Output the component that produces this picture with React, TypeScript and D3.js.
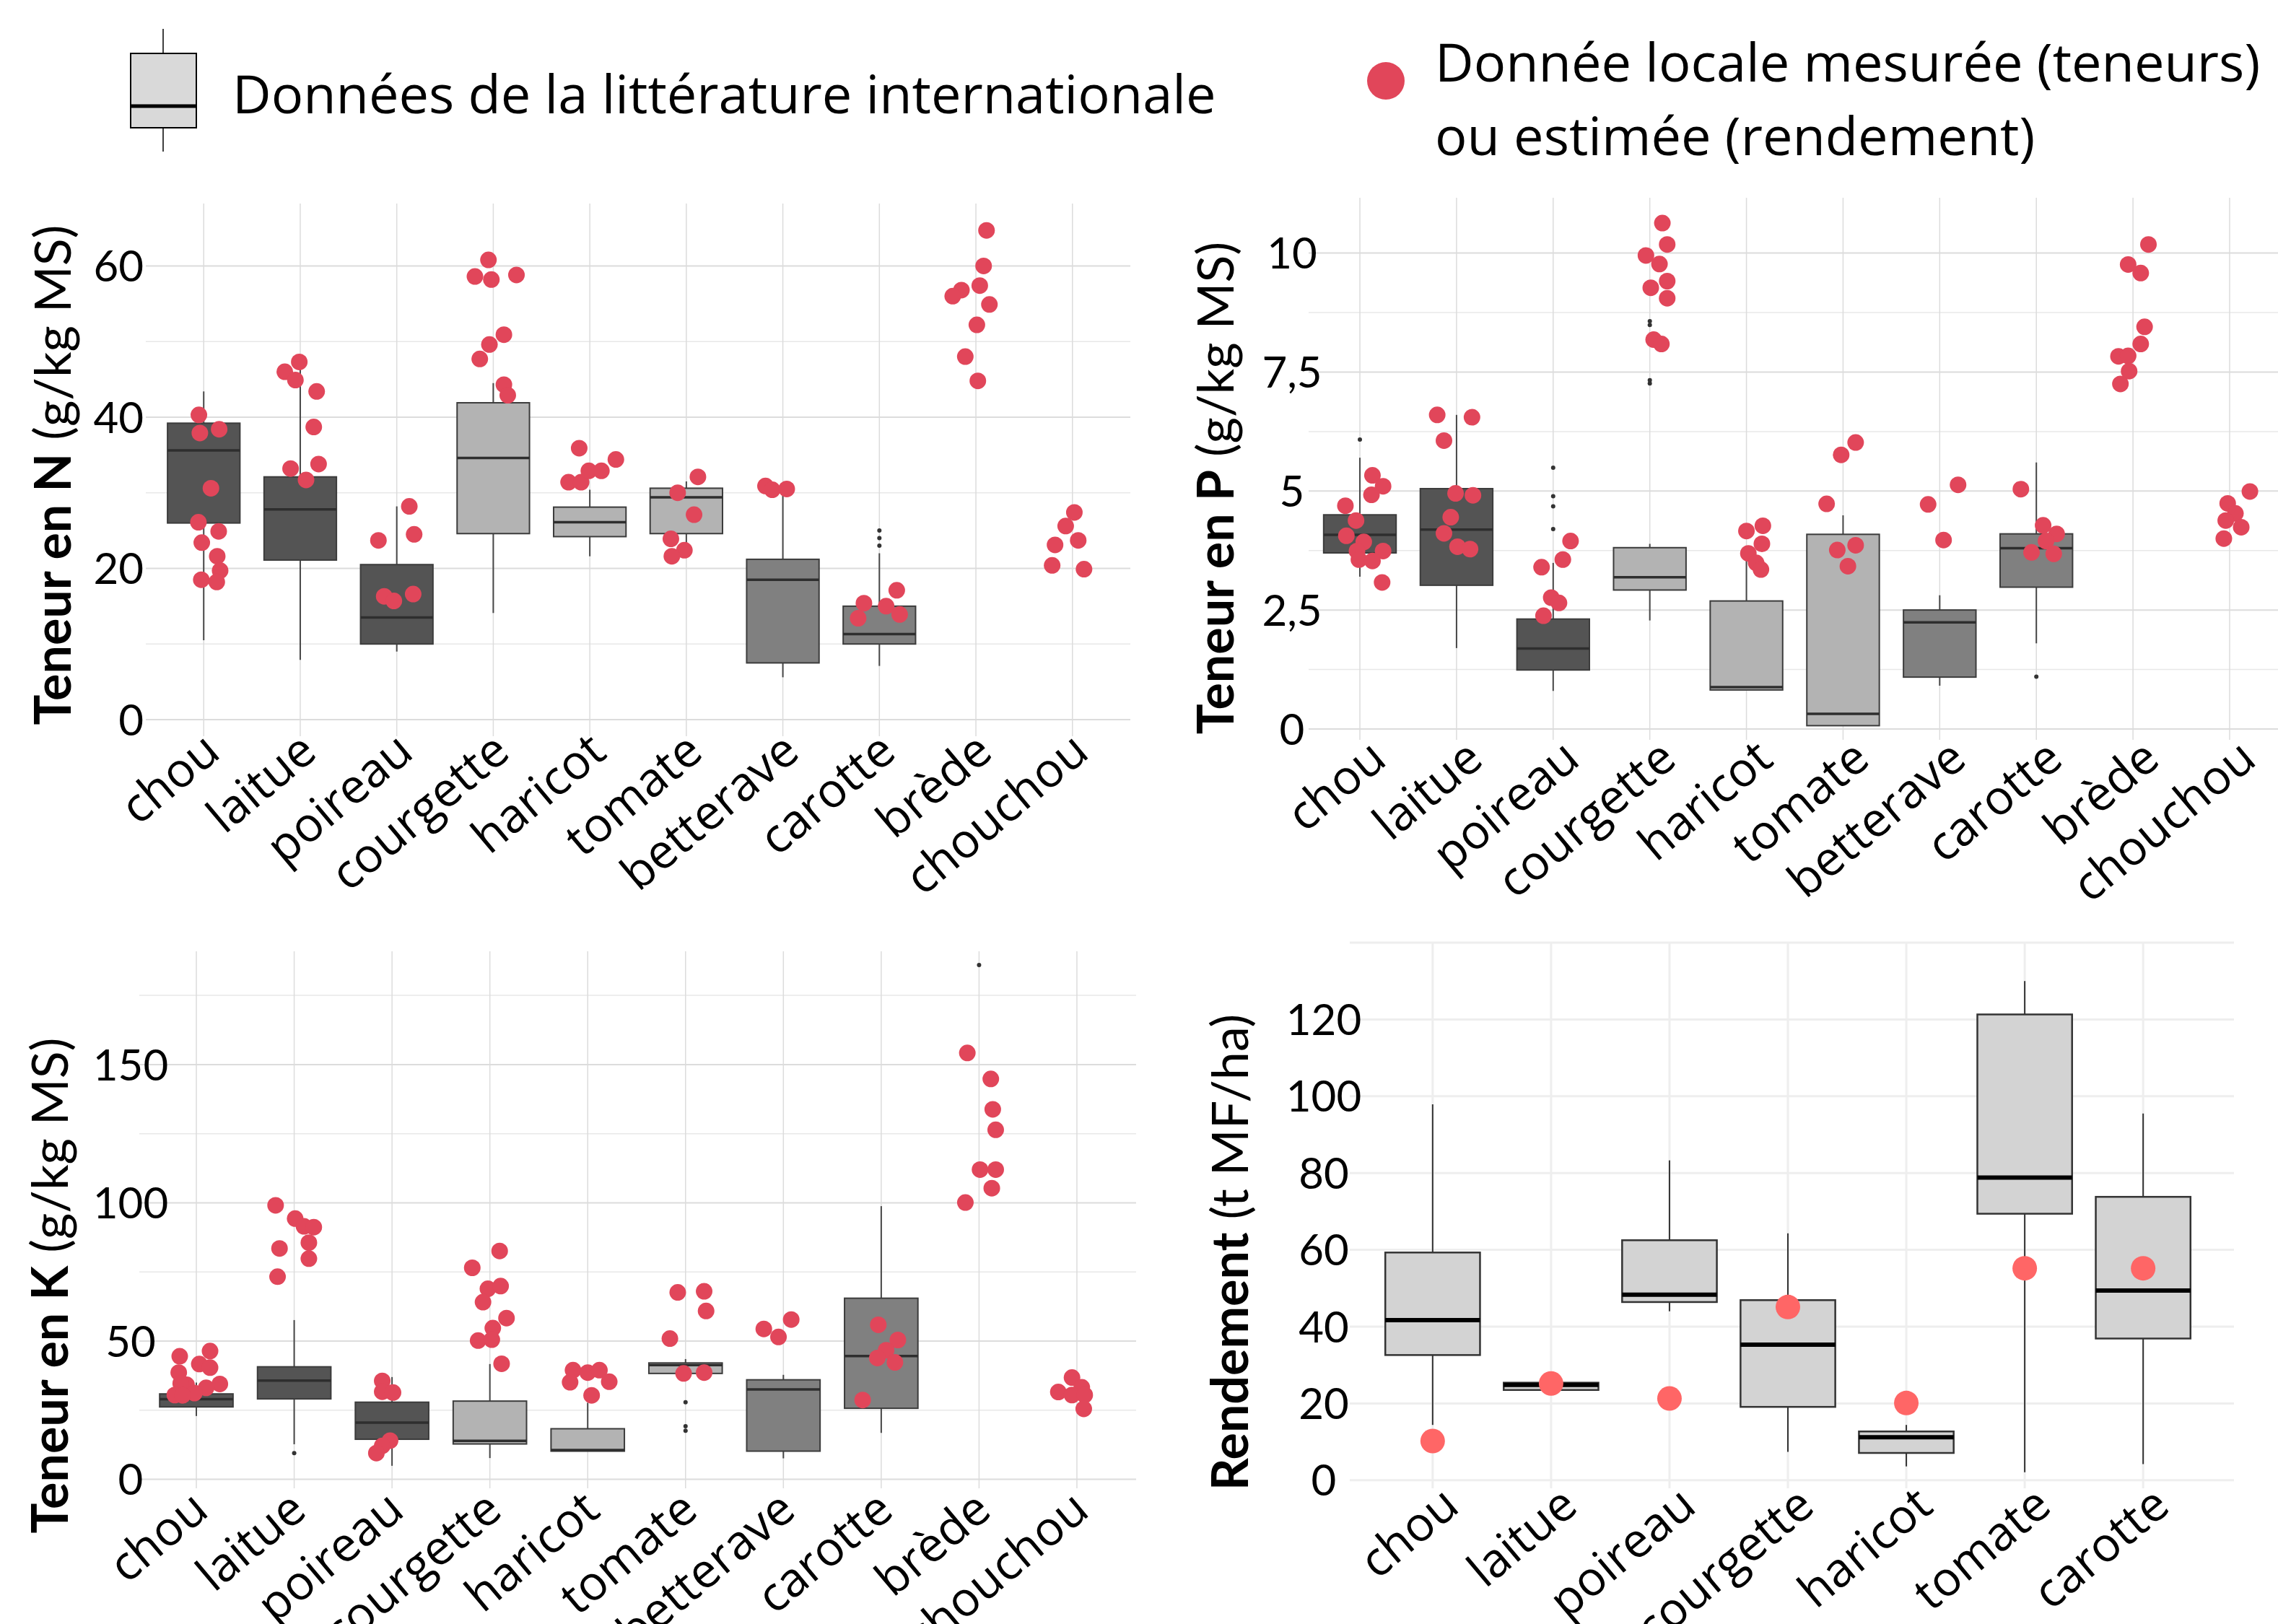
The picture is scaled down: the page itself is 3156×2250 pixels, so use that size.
import * as d3 from "d3"

const W = 3156
const H = 2250
const FONT = "Lato, 'Open Sans', sans-serif"
const FONT2 = "'Open Sans', Lato, sans-serif"

// catégories
const legumes = ["chou", "laitue", "poireau", "courgette", "haricot", "tomate", "betterave", "carotte", "brède", "chouchou"]
const legumesRdt = ["chou", "laitue", "poireau", "courgette", "haricot", "tomate", "carotte"]
// type de légume -> teinte de la boîte
const groupes = ["feuille", "feuille", "feuille", "fruit", "fruit", "fruit", "racine", "racine", "", ""]

// boîtes de la littérature : [min, q1, médiane, q3, max]
const boitesN = [
    [10.5, 26.0, 35.6, 39.2, 43.4],
    [7.9, 21.1, 27.8, 32.1, 48.1],
    [9.0, 10.0, 13.5, 20.5, 28.2],
    [14.1, 24.6, 34.6, 41.9, 44.5],
    [21.6, 24.2, 26.1, 28.1, 30.4],
    [22.0, 24.6, 29.4, 30.6, 31.5],
    [5.6, 7.5, 18.5, 21.2, 30.8],
    [7.1, 10.0, 11.3, 15.0, 22.0],
    null,
    null,
]
const horsN = [[], [], [], [], [], [], [], [23.0, 24.0, 25.0], [], []]
// mesures locales : [valeur, décalage horizontal (en largeur de catégorie)]
const mesuresN = [
    [[40.3, -0.05], [37.9, -0.04], [38.4, 0.16], [30.6, 0.075], [26.1, -0.055], [24.9, 0.155], [23.4, -0.02], [21.6, 0.14], [19.7, 0.17], [18.5, -0.025], [18.2, 0.135]],
    [[46.0, -0.16], [47.3, -0.01], [44.9, -0.05], [43.4, 0.17], [38.7, 0.14], [33.8, 0.19], [33.2, -0.10], [31.7, 0.06]],
    [[23.7, -0.19], [28.2, 0.13], [24.5, 0.18], [16.3, -0.13], [15.7, -0.03], [16.6, 0.17]],
    [[60.8, -0.05], [58.6, -0.19], [58.2, -0.02], [58.8, 0.24], [50.9, 0.11], [49.6, -0.04], [47.7, -0.14], [44.3, 0.11], [42.9, 0.15]],
    [[35.9, -0.11], [31.4, -0.22], [31.4, -0.09], [32.9, -0.01], [32.9, 0.12], [34.4, 0.27]],
    [[32.1, 0.12], [30.0, -0.09], [27.1, 0.08], [23.9, -0.16], [22.4, -0.02], [21.6, -0.15]],
    [[30.9, -0.18], [30.4, -0.11], [30.5, 0.04]],
    [[15.4, -0.16], [17.1, 0.18], [15.0, 0.07], [13.4, -0.22], [13.9, 0.21]],
    [[64.7, 0.11], [60.0, 0.08], [57.4, 0.04], [56.8, -0.15], [56.0, -0.24], [54.9, 0.14], [52.2, 0.01], [48.0, -0.11], [44.8, 0.02]],
    [[27.4, 0.02], [25.6, -0.07], [23.1, -0.18], [23.7, 0.06], [20.4, -0.21], [19.9, 0.12]],
]

const boitesP = [
    [3.20, 3.70, 4.08, 4.50, 5.70],
    [1.70, 3.02, 4.19, 5.05, 6.60],
    [0.80, 1.24, 1.69, 2.31, 3.49],
    [2.28, 2.92, 3.19, 3.81, 3.89],
    [0.82, 0.82, 0.88, 2.69, 3.75],
    [0.07, 0.07, 0.32, 4.09, 4.49],
    [0.91, 1.09, 2.24, 2.50, 2.81],
    [1.80, 2.98, 3.80, 4.10, 5.60],
    null,
    null,
]
const horsP = [[6.08], [], [4.20, 4.68, 4.89, 5.49], [7.26, 7.33, 8.49, 8.57], [], [], [], [1.10], [], []]
const mesuresP = [
    [[5.33, 0.13], [5.10, 0.24], [4.92, 0.12], [4.69, -0.15], [4.38, -0.04], [4.06, -0.14], [3.93, 0.04], [3.74, -0.03], [3.74, 0.24], [3.56, -0.01], [3.53, 0.13], [3.08, 0.23]],
    [[6.60, -0.20], [6.55, 0.16], [6.06, -0.13], [4.95, -0.01], [4.91, 0.17], [4.45, -0.06], [4.11, -0.13], [3.83, 0.01], [3.78, 0.14]],
    [[3.40, -0.12], [3.95, 0.18], [3.56, 0.10], [2.76, -0.02], [2.65, 0.06], [2.38, -0.10]],
    [[10.63, 0.13], [10.18, 0.18], [9.95, -0.04], [9.77, 0.10], [9.41, 0.18], [9.27, 0.01], [9.05, 0.18], [8.18, 0.04], [8.09, 0.12]],
    [[4.27, 0.17], [4.16, 0.0], [3.89, 0.16], [3.69, 0.02], [3.49, 0.10], [3.35, 0.15]],
    [[6.02, 0.13], [5.76, -0.02], [4.73, -0.17], [3.86, 0.13], [3.76, -0.06], [3.42, 0.05]],
    [[5.13, 0.19], [4.72, -0.12], [3.97, 0.04]],
    [[5.04, -0.16], [4.28, 0.07], [4.10, 0.21], [3.95, 0.10], [3.71, -0.05], [3.68, 0.18]],
    [[10.18, 0.16], [9.76, -0.05], [9.58, 0.08], [8.45, 0.12], [8.09, 0.08], [7.83, -0.15], [7.84, -0.05], [7.52, -0.04], [7.25, -0.13]],
    [[4.99, 0.21], [4.74, -0.02], [4.53, 0.06], [4.38, -0.04], [4.24, 0.12], [4.00, -0.06]],
]

const boitesK = [
    [22.9, 26.2, 29.0, 30.9, 35.0],
    [12.7, 29.1, 35.7, 40.7, 57.6],
    [4.9, 14.5, 20.5, 27.9, 37.0],
    [7.7, 12.8, 13.9, 28.3, 41.7],
    [10.2, 10.2, 10.6, 18.3, 27.7],
    [37.0, 38.3, 41.3, 42.1, 43.5],
    [7.6, 10.2, 32.5, 36.0, 37.8],
    [16.8, 25.7, 44.6, 65.5, 98.8],
    null,
    null,
]
const horsK = [[], [9.5], [], [], [], [17.6, 19.2, 27.9], [], [], [186.0], []]
const mesuresK = [
    [[44.5, -0.17], [46.4, 0.14], [41.7, 0.03], [40.4, 0.14], [38.6, -0.18], [34.5, 0.24], [33.1, 0.10], [34.2, -0.10], [34.7, -0.16], [31.2, -0.02], [30.5, -0.22], [30.4, -0.14]],
    [[99.1, -0.19], [94.3, 0.01], [91.5, 0.10], [91.2, 0.20], [83.5, -0.15], [85.6, 0.15], [79.8, 0.15], [73.3, -0.17]],
    [[35.6, -0.10], [31.7, -0.10], [31.4, 0.01], [14.0, -0.02], [12.1, -0.10], [9.5, -0.16]],
    [[82.6, 0.10], [76.5, -0.18], [68.9, -0.02], [69.9, 0.11], [64.1, -0.07], [58.3, 0.17], [54.7, 0.03], [50.2, -0.12], [50.5, 0.02], [41.8, 0.12]],
    [[39.5, -0.15], [38.6, 0.0], [39.5, 0.12], [35.1, -0.18], [35.3, 0.22], [30.4, 0.04]],
    [[67.6, -0.08], [68.0, 0.19], [60.9, 0.21], [50.9, -0.16], [38.3, -0.02], [38.6, 0.19]],
    [[57.8, 0.08], [54.4, -0.20], [51.5, -0.05]],
    [[55.9, -0.03], [50.4, 0.17], [46.7, 0.05], [43.9, -0.04], [42.3, 0.14], [28.7, -0.19]],
    [[154.2, -0.12], [144.8, 0.12], [133.8, 0.14], [126.4, 0.17], [112.0, 0.01], [112.0, 0.17], [105.3, 0.13], [100.1, -0.14]],
    [[36.8, -0.05], [31.6, -0.19], [33.3, 0.05], [30.5, -0.05], [30.5, 0.08], [25.5, 0.07]],
]

const boitesR = [
    [14.4, 32.6, 41.7, 59.3, 97.9],
    [23.5, 23.5, 24.8, 25.4, 25.4],
    [44.0, 46.4, 48.3, 62.5, 83.3],
    [7.4, 19.1, 35.3, 46.9, 64.3],
    [3.6, 7.1, 11.2, 12.7, 14.4],
    [2.1, 69.4, 78.8, 121.3, 130.0],
    [4.2, 36.9, 49.4, 73.8, 95.5],
]
const horsR = [[], [], [], [], [], [], []]
const mesuresR = [[[10.2, 0]], [[25.2, 0]], [[21.3, 0]], [[45.1, 0]], [[20.1, 0]], [[55.2, 0]], [[55.2, 0]]]

// graduations
const ticksN = [0, 20, 40, 60]
const minorN = [10, 30, 50]
const ticksP = [0, 2.5, 5, 7.5, 10]
const minorP = [1.25, 3.75, 6.25, 8.75]
const ticksK = [0, 50, 100, 150]
const minorK = [25, 75, 125, 175]
const ticksR = [0, 20, 40, 60, 80, 100, 120]
const gridR = [0, 20, 40, 60, 80, 100, 120, 140]

const fmt = (v: number) => String(v).replace(".", ",")

const fillGroupe: Record<string, string> = { feuille: "#545454", fruit: "#b3b3b3", racine: "#808080", "": "none" }

type Cfg = {
    xRange: [number, number]
    pad: number
    gridX: [number, number]
    top: number
    bottom: number
    yDom: [number, number]
    yRng: [number, number]
    boxW: number
    tickX: number
    tickAnchor: string
    labDx: number
    labDy: number
    titleX: number
    titleY: number
    bold: string
    rest: string
    rdt?: boolean
}

function Panel(props: {
    cats: string[]
    boxes: (number[] | null)[]
    outl: number[][]
    pts: number[][][]
    ticks: number[]
    grid: number[]
    minor: number[]
    cfg: Cfg
}) {
    const { cats, boxes, outl, pts, ticks, grid, minor, cfg } = props
    const x = d3.scalePoint<string>().domain(cats).range(cfg.xRange).padding(cfg.pad)
    const y = d3.scaleLinear().domain(cfg.yDom).range(cfg.yRng)
    const step = x.step()
    const bw = step * cfg.boxW
    const rdt = !!cfg.rdt
    const gridCol = rdt ? "#eeeeee" : "#dcdcdc"
    const gridW = rdt ? 3 : 2

    return (
        <g>
            {minor.map((t) => (
                <line key={"m" + t} x1={cfg.gridX[0]} x2={cfg.gridX[1]} y1={y(t)} y2={y(t)} stroke="#e8e8e8" strokeWidth={1.5} />
            ))}
            {grid.map((t) => (
                <line key={"g" + t} x1={cfg.gridX[0]} x2={cfg.gridX[1]} y1={y(t)} y2={y(t)} stroke={gridCol} strokeWidth={gridW} />
            ))}
            {cats.map((c) => (
                <line key={"v" + c} x1={x(c)} x2={x(c)} y1={cfg.top} y2={cfg.bottom} stroke={gridCol} strokeWidth={rdt ? 3 : 1.5} />
            ))}

            {cats.map((c, i) => {
                const b = boxes[i]
                if (!b) return null
                const cx = x(c) as number
                const fill = rdt ? "#d3d3d3" : fillGroupe[groupes[i]]
                return (
                    <g key={"b" + c}>
                        <line x1={cx} x2={cx} y1={y(b[0])} y2={y(b[1])} stroke={rdt ? "#333" : "#474747"} strokeWidth={2} />
                        <line x1={cx} x2={cx} y1={y(b[3])} y2={y(b[4])} stroke={rdt ? "#333" : "#474747"} strokeWidth={2} />
                        <rect x={cx - bw / 2} y={y(b[3])} width={bw} height={Math.max(y(b[1]) - y(b[3]), 0.5)}
                            fill={fill} stroke={rdt ? "#333" : "#3c3c3c"} strokeWidth={rdt ? 2.5 : 2} />
                        <line x1={cx - bw / 2} x2={cx + bw / 2} y1={y(b[2])} y2={y(b[2])}
                            stroke={rdt ? "#000" : "#2e2e2e"} strokeWidth={rdt ? 6 : 3.5} />
                    </g>
                )
            })}

            {cats.map((c, i) =>
                outl[i].map((v, j) => (
                    <circle key={"o" + c + j} cx={x(c)} cy={y(v)} r={3} fill="#333" />
                ))
            )}

            {cats.map((c, i) =>
                pts[i].map((p, j) => (
                    <circle key={"p" + c + j} cx={(x(c) as number) + p[1] * step} cy={y(p[0])}
                        r={rdt ? 17 : 11.5} fill={rdt ? "#ff6666" : "#e1465a"} />
                ))
            )}

            {ticks.map((t) => (
                <text key={"t" + t} x={cfg.tickX} y={y(t)} dy="0.36em" textAnchor={cfg.tickAnchor}
                    fontSize={60} fontFamily={FONT} fill="#000">{fmt(t)}</text>
            ))}

            {cats.map((c) => (
                <text key={"l" + c} transform={`translate(${(x(c) as number) + cfg.labDx},${y(0) + cfg.labDy}) rotate(-40)`}
                    textAnchor="end" fontSize={66} fontFamily={FONT2} fill="#000">{c}</text>
            ))}

            <text transform={`translate(${cfg.titleX},${cfg.titleY}) rotate(-90)`} textAnchor="middle"
                fontSize={70} fontFamily={FONT} fill="#000">
                <tspan fontWeight={700}>{cfg.bold}</tspan>
                <tspan>{cfg.rest}</tspan>
            </text>
        </g>
    )
}

export default function App() {
    const cfgN: Cfg = {
        xRange: [202, 1566], pad: 0.6, gridX: [202, 1566], top: 282, bottom: 1020,
        yDom: [0, 60], yRng: [997, 368.4], boxW: 0.75, tickX: 199, tickAnchor: "end",
        labDx: 26, labDy: 50, titleX: 98, titleY: 658, bold: "Teneur en N", rest: " (g/kg MS)",
    }
    const cfgP: Cfg = {
        xRange: [1803.7, 3169.3], pad: 0.6, gridX: [1813, 3156], top: 274, bottom: 1025,
        yDom: [0, 10], yRng: [1010, 350.6], boxW: 0.75, tickX: 1790, tickAnchor: "middle",
        labDx: 40, labDy: 47, titleX: 1709, titleY: 676, bold: "Teneur en P", rest: " (g/kg MS)",
    }
    const cfgK: Cfg = {
        xRange: [190.7, 1573.3], pad: 0.6, gridX: [193, 1574], top: 1318, bottom: 2062,
        yDom: [0, 150], yRng: [2049.6, 1474.9], boxW: 0.75, tickX: 181, tickAnchor: "middle",
        labDx: 20, labDy: 48, titleX: 94, titleY: 1781, bold: "Teneur en K", rest: " (g/kg MS)",
    }
    const cfgR: Cfg = {
        xRange: [1870, 3084], pad: 0.7, gridX: [1870, 3095], top: 1307, bottom: 2062,
        yDom: [0, 120], yRng: [2050.8, 1412.4], boxW: 0.8, tickX: 1834, tickAnchor: "middle",
        labDx: 40, labDy: 41, titleX: 1729, titleY: 1735, bold: "Rendement", rest: " (t MF/ha)", rdt: true,
    }

    const legendStyle = { fontVariantLigatures: "none" }

    return (
        <svg width={W} height={H} viewBox={`0 0 ${W} ${H}`}
            style={{ position: "absolute", left: 0, top: 0, background: "#fff" }}>
            <rect width={W} height={H} fill="#fff" />

            {/* légende */}
            <line x1={226} x2={226} y1={40} y2={210} stroke="#000" strokeWidth={1.5} />
            <rect x={181} y={74} width={91} height={103} fill="#d9d9d9" stroke="#000" strokeWidth={2} />
            <line x1={181} x2={272} y1={147} y2={147} stroke="#000" strokeWidth={5} />
            <text x={322} y={157} fontSize={74} fontFamily={FONT2} fill="#000" style={legendStyle}>Données de la littérature internationale</text>
            <circle cx={1920} cy={112} r={26} fill="#e1465a" />
            <text x={1988} y={113} fontSize={74} fontFamily={FONT2} fill="#000" style={legendStyle}>Donnée locale mesurée (teneurs)</text>
            <text x={1988} y={215} fontSize={74} fontFamily={FONT2} fill="#000" style={legendStyle}>ou estimée (rendement)</text>

            <Panel cats={legumes} boxes={boitesN} outl={horsN} pts={mesuresN} ticks={ticksN} grid={ticksN} minor={minorN} cfg={cfgN} />
            <Panel cats={legumes} boxes={boitesP} outl={horsP} pts={mesuresP} ticks={ticksP} grid={ticksP} minor={minorP} cfg={cfgP} />
            <Panel cats={legumes} boxes={boitesK} outl={horsK} pts={mesuresK} ticks={ticksK} grid={ticksK} minor={minorK} cfg={cfgK} />
            <Panel cats={legumesRdt} boxes={boitesR} outl={horsR} pts={mesuresR} ticks={ticksR} grid={gridR} minor={[]} cfg={cfgR} />
        </svg>
    )
}
